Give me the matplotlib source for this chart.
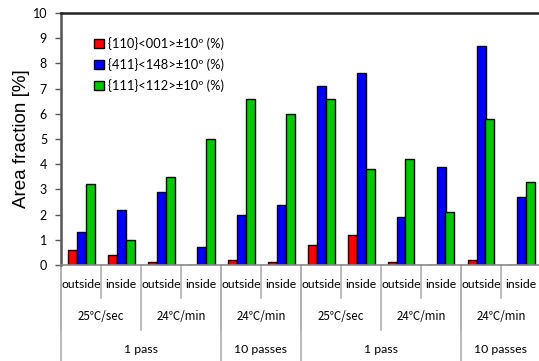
import matplotlib
matplotlib.use("Agg")
import matplotlib.pyplot as plt
import matplotlib.transforms as mtransforms
import numpy as np

plt.rcParams['font.family'] = ['Lato', 'Noto Sans CJK JP', 'DejaVu Sans']

positions = ['outside', 'inside'] * 6
rates = ['25℃/sec', '24℃/min', '24℃/min', '25℃/sec', '24℃/min', '24℃/min']
passes = ['1 pass', '10 passes', '1 pass', '10 passes']
pass_spans = [(0, 4), (4, 6), (6, 10), (10, 12)]

goss = [0.6, 0.4, 0.1, 0.0, 0.2, 0.1, 0.8, 1.2, 0.1, 0.0, 0.2, 0.0]
tex411 = [1.3, 2.2, 2.9, 0.7, 2.0, 2.4, 7.1, 7.6, 1.9, 3.9, 8.7, 2.7]
gamma = [3.2, 1.0, 3.5, 5.0, 6.6, 6.0, 6.6, 3.8, 4.2, 2.1, 5.8, 3.3]

series = [
    (goss, '#ff0000', '{110}<001>±10º (%)'),
    (tex411, '#0000ff', '{411}<148>±10º (%)'),
    (gamma, '#00c800', '{111}<112>±10º (%)'),
]

fig = plt.figure(figsize=(5.39, 3.61), dpi=100)
ax = fig.add_axes([61 / 539, 96 / 361, 480 / 539, 252 / 361])

x = np.arange(len(positions))
w = 0.225
for k, (vals, col, lab) in enumerate(series):
    ax.bar(x + (k - 1) * w, vals, w, color=col, edgecolor='black',
           linewidth=1.0, label=lab)

ax.set_xlim(-0.5, 11.5)
ax.set_ylim(0, 10)
ax.set_yticks(range(0, 11))
ax.tick_params(axis='y', labelsize=9, length=4, width=1, color='#555555', pad=6)
ax.set_xticks([])
ax.set_ylabel('Area fraction [%]', fontsize=13.5, labelpad=2,
              family='Liberation Sans')

ax.spines['right'].set_visible(False)
ax.spines['top'].set_linewidth(1.8)
ax.spines['top'].set_color('#222222')
ax.spines['left'].set_linewidth(1.8)
ax.spines['left'].set_color('#555555')
ax.spines['bottom'].set_linewidth(1.2)
ax.spines['bottom'].set_color('#888888')

# category axis: three label rows with separators below the plot
trans = mtransforms.blended_transform_factory(ax.transData, ax.transAxes)
sep = '#b0b0b0'
for i, p in enumerate(positions):
    ax.text(i, -0.079, p, transform=trans, ha='center', va='center', fontsize=8.8)
    if i % 2 == 1:
        ax.plot([i - 0.5, i - 0.5], [0, -0.131], transform=trans, color=sep,
                lw=1.2, clip_on=False)
for j, r in enumerate(rates):
    ax.text(2 * j + 0.5, -0.206, r, transform=trans, ha='center', va='center',
            fontsize=8.3, family=['Noto Sans CJK JP', 'DejaVu Sans'])
    ax.plot([2 * j - 0.5, 2 * j - 0.5], [0, -0.258], transform=trans, color=sep,
            lw=1.2, clip_on=False)
for lab, (a, b) in zip(passes, pass_spans):
    ax.text((a + b - 1) / 2, -0.337, lab, transform=trans, ha='center',
            va='center', fontsize=8.8)
    ax.plot([a - 0.5, a - 0.5], [0, -0.45], transform=trans, color=sep,
            lw=1.2, clip_on=False)

ax.legend(loc='upper left', bbox_to_anchor=(0.045, 0.95), frameon=False,
          fontsize=9.3, handlelength=0.75, handleheight=0.75, handletextpad=0.3,
          labelspacing=0.62)

fig.savefig('out.png', dpi=100)
